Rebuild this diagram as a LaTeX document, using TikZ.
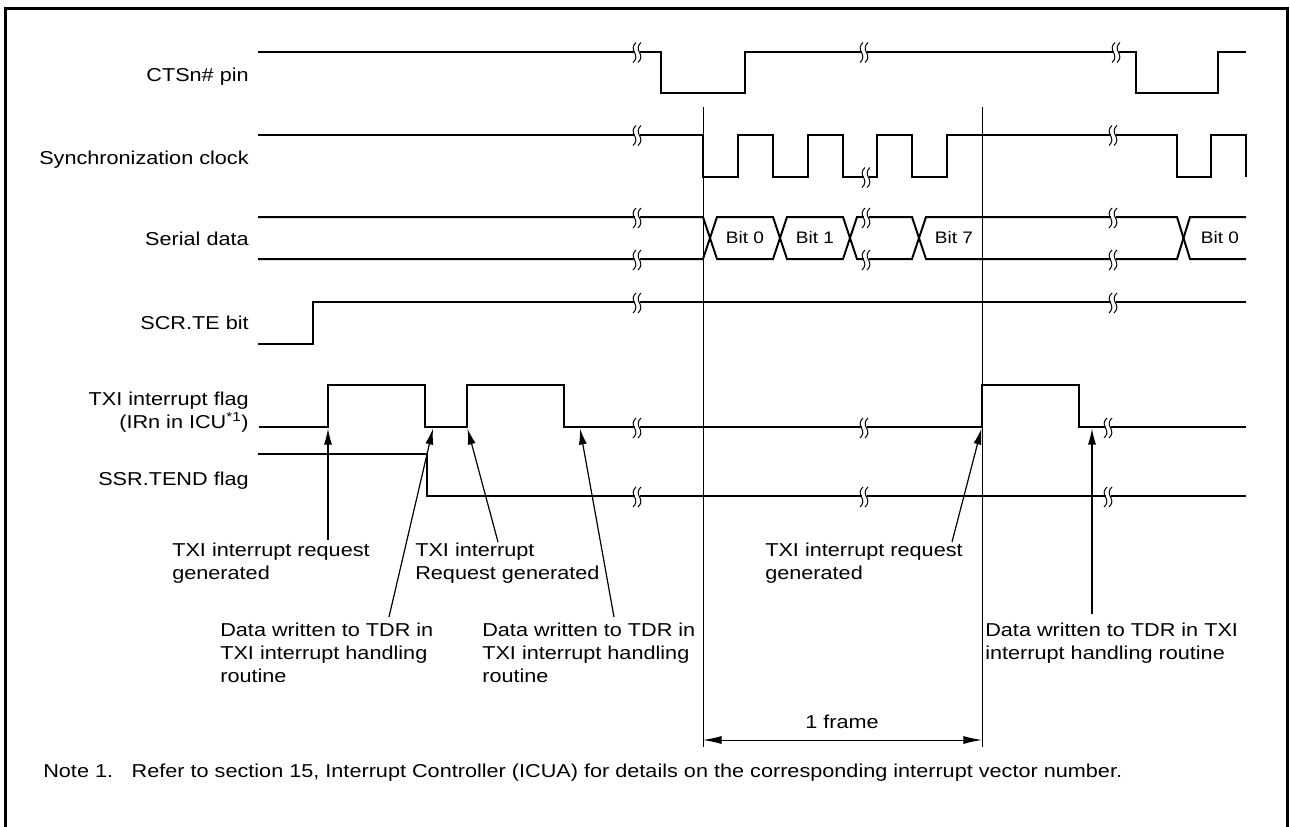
\documentclass[tikz,border=0pt]{standalone}
\usepackage{fontspec}
\setmainfont{Liberation Sans}
\usetikzlibrary{arrows.meta}
\newcommand{\tbreak}[2]{%
  \fill[white] (#1-2.5,#2-2) rectangle (#1+2.5,#2+2);
  \draw[brkline] (#1-1,#2-9) .. controls (#1-4.5,#2-6) and (#1-4.5,#2-2) .. (#1-2.5,#2+1) .. controls (#1-0.5,#2+4) and (#1-0.5,#2+8) .. (#1-4,#2+11);
  \draw[brkline] (#1+4,#2-9) .. controls (#1+0.5,#2-6) and (#1+0.5,#2-2) .. (#1+2.5,#2+1) .. controls (#1+4.5,#2+4) and (#1+4.5,#2+8) .. (#1+1,#2+11);
}
\begin{document}
\begin{tikzpicture}[x=0.75pt,y=-0.75pt,
  sig/.style={line width=1.5pt, line join=miter},
  lbl/.style={font=\fontsize{14}{17.25}\selectfont, inner sep=0pt, xscale=1.16},
  bitlbl/.style={font=\fontsize{12.5}{15}\selectfont, inner sep=0pt, xscale=1.14},
  refl/.style={line width=0.75pt},
  pointer/.style={line width=0.9pt, -{Latex[length=12pt,width=6pt]}},
  dimarrow/.style={line width=0.75pt, {Latex[length=14pt,width=6pt]}-{Latex[length=14pt,width=6pt]}},
  frm/.style={line width=2.25pt},
  brkline/.style={line width=0.75pt}
]
\useasboundingbox (0,0) rectangle (1290,826);
\draw[frm] (5.5,830) -- (5.5,8.5) -- (1287.5,8.5) -- (1287.5,830);

% signal labels
\node[lbl, anchor=base east] (cts) at (249,81) {CTSn\# pin};
\node[lbl, anchor=base east] (clk) at (249,164.5) {Synchronization clock};
\node[lbl, anchor=base east] (sd) at (249,245) {Serial data};
\node[lbl, anchor=base east] (te) at (249,329.5) {SCR.TE bit};
\node[lbl, anchor=north east, align=right] (txi) at (249,392) {TXI interrupt flag\\(IRn in ICU\textsuperscript{*1})};
\node[lbl, anchor=base east] (tend) at (249,485) {SSR.TEND flag};

% CTS
\draw[sig] (258,51.5) -- (661,51.5) -- (661,92.5) -- (745,92.5) -- (745,51.5) -- (1136,51.5) -- (1136,92.5) -- (1218,92.5) -- (1218,51.5) -- (1246,51.5);
% clock
\draw[sig] (258,134.5) -- (703,134.5) -- (703,176.5) -- (738,176.5) -- (738,134.5) -- (773,134.5) -- (773,176.5) -- (808,176.5) -- (808,134.5) -- (843,134.5) -- (843,176.5) -- (877,176.5) -- (877,134.5) -- (912,134.5) -- (912,176.5) -- (947,176.5) -- (947,134.5) -- (1177,134.5) -- (1177,176.5) -- (1211,176.5) -- (1211,134.5) -- (1246,134.5) -- (1246,176.5);
% serial data
\draw[sig] (258,217) -- (703,217) -- (717,259) -- (773,259) -- (787,217) -- (843,217) -- (857,259) -- (912,259) -- (926,217) -- (1177,217) -- (1190,259) -- (1246,259);
\draw[sig] (258,259) -- (703,259) -- (717,217) -- (773,217) -- (787,259) -- (843,259) -- (857,217) -- (912,217) -- (926,259) -- (1177,259) -- (1190,217) -- (1246,217);
% SCR.TE
\draw[sig] (258,344) -- (313,344) -- (313,302) -- (1246,302);
% TXI flag
\draw[sig] (259,427) -- (328,427) -- (328,385) -- (425,385) -- (425,427) -- (467,427) -- (467,385) -- (564,385) -- (564,427) -- (982,427) -- (982,385) -- (1079,385) -- (1079,427) -- (1246,427);
% TEND
\draw[sig] (258,454) -- (427,454) -- (427,496) -- (1246,496);

% breaks
\tbreak{637}{51.5}\tbreak{864}{51.5}\tbreak{1116}{51.5}
\tbreak{637}{134.5}\tbreak{866}{176.5}\tbreak{1113}{134.5}
\tbreak{637}{217}\tbreak{637}{259}\tbreak{866}{217}\tbreak{866}{259}\tbreak{1113}{217}\tbreak{1113}{259}
\tbreak{637}{302}\tbreak{1113}{302}
\tbreak{637}{427}\tbreak{864}{427}\tbreak{1108}{427}
\tbreak{637}{496}\tbreak{864}{496}\tbreak{1108}{496}

% bit labels
\node[bitlbl] (b0) at (745,238) {Bit 0};
\node[bitlbl] (b1) at (815,238) {Bit 1};
\node[bitlbl] (b7) at (954,238) {Bit 7};
\node[bitlbl] (b0b) at (1220,238) {Bit 0};

% reference lines
\coordinate (v1t) at (703,107); \coordinate (v1b) at (703,747);
\coordinate (v2t) at (982,107); \coordinate (v2b) at (982,747);
\draw[refl] (v1t) -- (v1b);
\draw[refl] (v2t) -- (v2b);
\coordinate (d1) at (703,740); \coordinate (d2) at (982,740);
\draw[dimarrow] (d1) -- (d2);
\node[lbl] (frame) at (842,722) {1 frame};

% annotation labels
\node[lbl, anchor=north west, align=left] (l1) at (172,543) {TXI interrupt request\\generated};
\node[lbl, anchor=north west, align=left] (l2) at (220,623) {Data written to TDR in\\TXI interrupt handling\\routine};
\node[lbl, anchor=north west, align=left] (l3) at (415,543) {TXI interrupt\\Request generated};
\node[lbl, anchor=north west, align=left] (l4) at (482,623) {Data written to TDR in\\TXI interrupt handling\\routine};
\node[lbl, anchor=north west, align=left] (l5) at (765,543) {TXI interrupt request\\generated};
\node[lbl, anchor=north west, align=left] (l6) at (985,623) {Data written to TDR in TXI\\interrupt handling routine};

% pointers
\coordinate (p1s) at (328,540); \coordinate (p1e) at (328,428.5);
\coordinate (p2s) at (389,617); \coordinate (p2e) at (433,428.5);
\coordinate (p3s) at (498,542); \coordinate (p3e) at (467.5,428.5);
\coordinate (p4s) at (614,617); \coordinate (p4e) at (580,428.5);
\coordinate (p5s) at (952,542); \coordinate (p5e) at (981.5,428.5);
\coordinate (p6s) at (1092,614); \coordinate (p6e) at (1092,428.5);
\draw[pointer] (p1s) -- (p1e);
\draw[pointer] (p2s) -- (p2e);
\draw[pointer] (p3s) -- (p3e);
\draw[pointer] (p4s) -- (p4e);
\draw[pointer] (p5s) -- (p5e);
\draw[pointer] (p6s) -- (p6e);

% note
\node[lbl, anchor=base west] (note) at (43,777) {Note 1.\hspace{12pt}Refer to section 15, Interrupt Controller (ICUA) for details on the corresponding interrupt vector number.};
\end{tikzpicture}
\end{document}
